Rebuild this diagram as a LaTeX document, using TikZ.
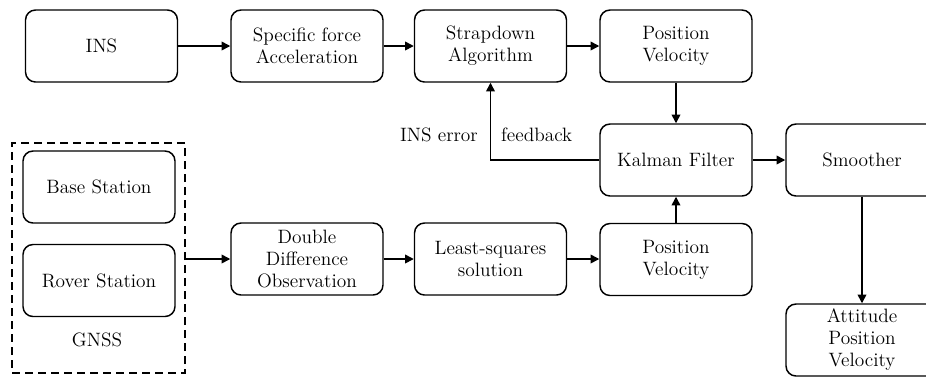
\documentclass[tikz,border=0pt]{standalone}
\usetikzlibrary{arrows.meta}

\begin{document}
\begin{tikzpicture}[x=0.75pt, y=-0.75pt, >={Triangle[length=6.5pt,width=6.5pt]}, line width=1.1pt,
	every node/.style={font=\fontsize{14.5pt}{16.5pt}\selectfont, align=center},
	blk/.style={draw, rounded corners=7.5pt, minimum width=114pt, minimum height=54pt, inner sep=0pt},
	group/.style={draw, dashed, dash pattern=on 6pt off 3.75pt, minimum width=129.75pt, minimum height=172.5pt, inner sep=0pt}]
			
			\useasboundingbox (0,0) rectangle (926,376);
			
			% INS branch
			\node[blk] (ins)    at (101.5, 46)  {INS};
			\node[blk] (force)  at (307, 46)    {Specific force\\Acceleration};
			\node[blk] (strap)  at (490.5, 46)  {Strapdown\\Algorithm};
			\node[blk] (posins) at (676, 46)    {Position\\Velocity};
			
			% fusion
			\node[blk] (kalman)   at (676, 160) {Kalman Filter};
			\node[blk] (smoother) at (862, 160) {Smoother};
			\node[blk] (result)   at (862, 340) {Attitude\\Position\\Velocity};
			
			% GNSS branch
			\node[group] (gnss) at (98.5, 258) {};
			\node[blk] (base)  at (99, 187)    {Base Station};
			\node[blk] (rover) at (99, 280.5)  {Rover Station};
			\node (gnsslbl) at (97, 340) {GNSS};
			\node[blk] (dd)      at (307, 259)   {Double\\Difference\\Observation};
			\node[blk] (lsq)     at (490.5, 259) {Least-squares\\solution};
			\node[blk] (posgnss) at (676, 259.5) {Position\\Velocity};
			
			\draw[->] (ins) -- (force);
			\draw[->] (force) -- (strap);
			\draw[->] (strap) -- (posins);
			\draw[->] (posins) -- (kalman);
			\draw[->] (kalman) -- (smoother);
			\draw[->] (smoother) -- (result);
			
			\draw[->] (gnss.east |- dd.west) -- (dd.west);
			\draw[->] (dd) -- (lsq);
			\draw[->] (lsq.east) -- (posgnss.west |- lsq.east);
			\draw[->] (posgnss) -- (kalman);
			
			% error feedback loop
			\draw[->] (kalman.west) -| (strap.south);
			\node[anchor=east] (errlbl) at (483, 135) {INS error};
			\node[anchor=west] (fblbl)  at (496, 135) {feedback};
			
	\end{tikzpicture}
\end{document}
